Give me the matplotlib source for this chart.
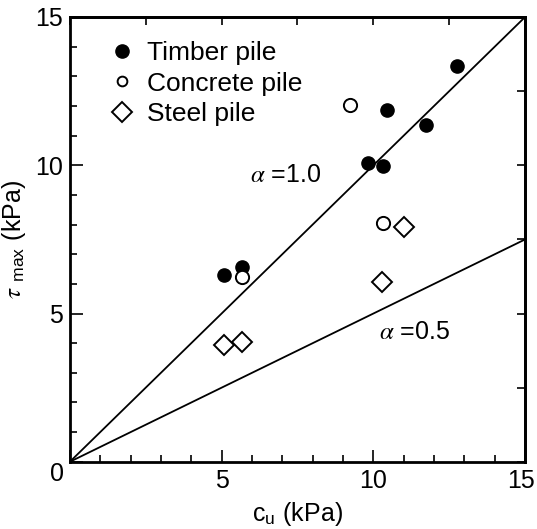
import matplotlib.pyplot as plt
import matplotlib.transforms as mtransforms
from matplotlib.lines import Line2D
from matplotlib.ticker import MultipleLocator, FuncFormatter

plt.rcParams['font.family'] = ['Liberation Sans', 'DejaVu Sans']
plt.rcParams['mathtext.fontset'] = 'stix'

# data (c_u, tau_max) in kPa
timber_cu = [12.76, 10.45, 11.74, 9.83, 10.32, 5.08, 5.67]
timber_tau = [13.35, 11.86, 11.36, 10.08, 9.98, 6.30, 6.57]
concrete_cu = [9.23, 10.32, 5.67]
concrete_tau = [12.03, 8.05, 6.24]
steel_cu = [11.01, 10.29, 5.08, 5.67]
steel_tau = [7.92, 6.07, 3.94, 4.04]
alphas = [1.0, 0.5]
line_x = [0, 15]

fig = plt.figure(figsize=(5.37, 5.29), dpi=100)
ax = fig.add_axes([0.130, 0.127, 0.848, 0.841])

for a in alphas:
    ax.plot(line_x, [a * v for v in line_x], color="black", lw=1.3, zorder=1)

ax.plot(timber_cu, timber_tau, "o", color="black", ms=9.5, ls="none")
ax.plot(concrete_cu, concrete_tau, "o", mfc="white", mec="black", mew=1.4, ms=9.5, ls="none")
ax.plot(steel_cu, steel_tau, "D", mfc="white", mec="black", mew=1.4, ms=10, ls="none")

ax.text(7.1, 9.67, r"$\alpha$ =1.0", fontsize=18, ha="center", va="center")
ax.text(11.35, 4.38, r"$\alpha$ =0.5", fontsize=18, ha="center", va="center")

ax.set_xlim(0, 15)
ax.set_ylim(0, 15)
ax.xaxis.set_major_locator(MultipleLocator(5))
ax.yaxis.set_major_locator(MultipleLocator(5))
ax.xaxis.set_minor_locator(MultipleLocator(1))
ax.yaxis.set_minor_locator(MultipleLocator(1))
nozero = FuncFormatter(lambda v, p: "" if v == 0 else "%d" % v)
ax.xaxis.set_major_formatter(nozero)
ax.yaxis.set_major_formatter(nozero)
ax.tick_params(which="both", direction="in", top=False, right=False, width=1.2)
ax.tick_params(which="major", length=9, labelsize=18, pad=5)
ax.tick_params(which="minor", length=5)
ax.annotate("0", xy=(0, 0), xytext=(-9, -9), textcoords="offset points",
            fontsize=18, ha="center", va="center")

# top and right ticks every 2.5
sec_x = ax.secondary_xaxis("top")
sec_x.xaxis.set_major_locator(MultipleLocator(2.5))
sec_x.tick_params(direction="in", length=6, width=1.2, labeltop=False)
sec_y = ax.secondary_yaxis("right")
sec_y.yaxis.set_major_locator(MultipleLocator(2.5))
sec_y.tick_params(direction="in", length=6, width=1.2, labelright=False)

for s in ax.spines.values():
    s.set_linewidth(2)
for s in list(sec_x.spines.values()) + list(sec_y.spines.values()):
    s.set_linewidth(2)

ax.set_xlabel(r"c$_\mathregular{u}$ (kPa)", fontsize=18, labelpad=5)
ax.set_ylabel(r"$\tau$ $_\mathregular{max}$ (kPa)", fontsize=18, labelpad=5)

# keep the last x tick label inside the figure
fig.canvas.draw()
shift = mtransforms.ScaledTranslation(-3 / 72, 0, fig.dpi_scale_trans)
for lab in ax.get_xticklabels():
    if lab.get_text() == "15":
        lab.set_transform(lab.get_transform() + shift)

handles = [
    Line2D([], [], marker="o", color="black", ls="none", ms=9.5),
    Line2D([], [], marker="o", mfc="white", mec="black", mew=1.4, ls="none", ms=7),
    Line2D([], [], marker="D", mfc="white", mec="black", mew=1.4, ls="none", ms=10),
]
ax.legend(handles, ["Timber pile", "Concrete pile", "Steel pile"],
          loc="upper left", frameon=False, fontsize=19, handlelength=1.0,
          handletextpad=0.45, labelspacing=0.25, borderaxespad=0, borderpad=0,
          bbox_to_anchor=(0.086, 0.946))

fig.savefig("out.png", dpi=100)
